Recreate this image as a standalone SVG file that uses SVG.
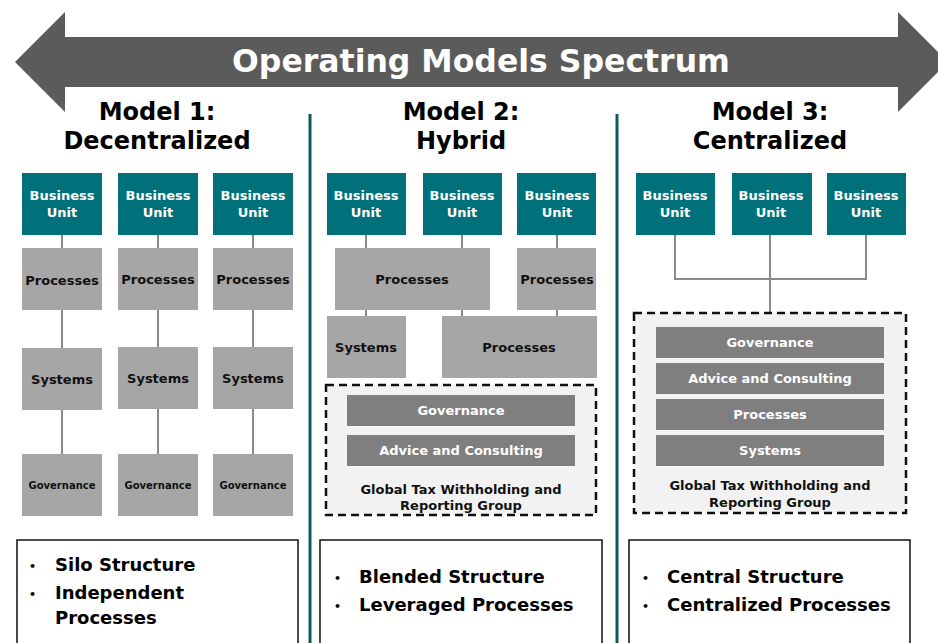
<svg xmlns="http://www.w3.org/2000/svg" width="938" height="643" viewBox="0 0 938 643">
  <style>
    text { font-family: "DejaVu Sans", Verdana, sans-serif; font-weight: bold; }
    .bu { fill: #00717b; }
    .bu-t { fill: #ffffff; font-size: 13px; text-anchor: middle; }
    .box { fill: #a6a6a6; }
    .box-t { fill: #111111; font-size: 13px; text-anchor: middle; dominant-baseline: central; }
    .gov-t { fill: #111111; font-size: 10px; text-anchor: middle; dominant-baseline: central; }
    .bar { fill: #7f7f7f; }
    .bar-t { fill: #ffffff; font-size: 13px; text-anchor: middle; dominant-baseline: central; }
    .group { fill: #f2f2f2; stroke: #111111; stroke-width: 2.5; stroke-dasharray: 8 5; }
    .group-t { fill: #111111; font-size: 13px; text-anchor: middle; }
    .head { fill: #000000; font-size: 24px; text-anchor: middle; }
    .sep { stroke: #0c5a60; stroke-width: 3; }
    .link { stroke: #8a8a8a; stroke-width: 2; fill: none; }
    .note { fill: #ffffff; stroke: #111111; stroke-width: 1.5; }
    .note-t { fill: #000000; font-size: 18px; }
    .bullet { fill: #000000; font-size: 11px; text-anchor: middle; dominant-baseline: central; }
  </style>

  <!-- spectrum arrow -->
  <g id="spectrum">
    <polygon points="15,62 65,12 65,37 898,37 898,12 948,62 898,112 898,87 65,87 65,112" fill="#5b5b5b"/>
    <text x="481" y="72" fill="#ffffff" font-size="31.5" text-anchor="middle">Operating Models Spectrum</text>
  </g>

  <!-- column separators -->
  <g id="separators">
    <line class="sep" x1="310" y1="114" x2="310" y2="643"/>
    <line class="sep" x1="617" y1="114" x2="617" y2="643"/>
  </g>

  <!-- headings -->
  <g id="heading-1">
    <text class="head" x="157" y="120">Model 1:</text>
    <text class="head" x="157" y="149">Decentralized</text>
  </g>
  <g id="heading-2">
    <text class="head" x="461" y="120">Model 2:</text>
    <text class="head" x="461" y="149">Hybrid</text>
  </g>
  <g id="heading-3">
    <text class="head" x="770" y="120">Model 3:</text>
    <text class="head" x="770" y="149">Centralized</text>
  </g>

  <!-- connectors -->
  <g id="connectors">
    <!-- model 1 -->
    <line class="link" x1="62" y1="235" x2="62" y2="454"/>
    <line class="link" x1="158" y1="235" x2="158" y2="454"/>
    <line class="link" x1="253" y1="235" x2="253" y2="454"/>
    <!-- model 2 -->
    <line class="link" x1="366" y1="235" x2="366" y2="316"/>
    <line class="link" x1="462" y1="235" x2="462" y2="316"/>
    <line class="link" x1="557" y1="235" x2="557" y2="316"/>
    <!-- model 3 -->
    <polyline class="link" points="675,235 675,279 866,279 866,235"/>
    <line class="link" x1="770" y1="235" x2="770" y2="313"/>
  </g>

  <!-- model 1 nodes -->
  <g id="m1-bu1"><rect class="bu" x="22" y="173" width="80" height="62"/><text class="bu-t" x="62" y="200">Business</text><text class="bu-t" x="62" y="217">Unit</text></g>
  <g id="m1-bu2"><rect class="bu" x="118" y="173" width="80" height="62"/><text class="bu-t" x="158" y="200">Business</text><text class="bu-t" x="158" y="217">Unit</text></g>
  <g id="m1-bu3"><rect class="bu" x="213" y="173" width="80" height="62"/><text class="bu-t" x="253" y="200">Business</text><text class="bu-t" x="253" y="217">Unit</text></g>

  <g id="m1-proc1"><rect class="box" x="22" y="248" width="80" height="62"/><text class="box-t" x="62" y="280">Processes</text></g>
  <g id="m1-proc2"><rect class="box" x="118" y="248" width="80" height="62"/><text class="box-t" x="158" y="279">Processes</text></g>
  <g id="m1-proc3"><rect class="box" x="213" y="248" width="80" height="62"/><text class="box-t" x="253" y="279">Processes</text></g>

  <g id="m1-sys1"><rect class="box" x="22" y="348" width="80" height="62"/><text class="box-t" x="62" y="379">Systems</text></g>
  <g id="m1-sys2"><rect class="box" x="118" y="347" width="80" height="62"/><text class="box-t" x="158" y="378">Systems</text></g>
  <g id="m1-sys3"><rect class="box" x="213" y="347" width="80" height="62"/><text class="box-t" x="253" y="378">Systems</text></g>

  <g id="m1-gov1"><rect class="box" x="22" y="454" width="80" height="62"/><text class="gov-t" x="62" y="485">Governance</text></g>
  <g id="m1-gov2"><rect class="box" x="118" y="454" width="80" height="62"/><text class="gov-t" x="158" y="485">Governance</text></g>
  <g id="m1-gov3"><rect class="box" x="213" y="454" width="80" height="62"/><text class="gov-t" x="253" y="485">Governance</text></g>

  <!-- model 2 nodes -->
  <g id="m2-bu1"><rect class="bu" x="327" y="173" width="79" height="62"/><text class="bu-t" x="366" y="200">Business</text><text class="bu-t" x="366" y="217">Unit</text></g>
  <g id="m2-bu2"><rect class="bu" x="423" y="173" width="79" height="62"/><text class="bu-t" x="462" y="200">Business</text><text class="bu-t" x="462" y="217">Unit</text></g>
  <g id="m2-bu3"><rect class="bu" x="517" y="173" width="79" height="62"/><text class="bu-t" x="557" y="200">Business</text><text class="bu-t" x="557" y="217">Unit</text></g>

  <g id="m2-proc-shared"><rect class="box" x="335" y="248" width="155" height="62"/><text class="box-t" x="412" y="279">Processes</text></g>
  <g id="m2-proc-own"><rect class="box" x="517" y="248" width="79" height="62"/><text class="box-t" x="557" y="279">Processes</text></g>
  <g id="m2-sys"><rect class="box" x="327" y="316" width="79" height="62"/><text class="box-t" x="366" y="347">Systems</text></g>
  <g id="m2-proc-low"><rect class="box" x="442" y="316" width="155" height="62"/><text class="box-t" x="519" y="347">Processes</text></g>

  <g id="m2-group">
    <rect class="group" x="326" y="385" width="270" height="130"/>
    <rect class="bar" x="347" y="395" width="228" height="31"/><text class="bar-t" x="461" y="410">Governance</text>
    <rect class="bar" x="347" y="435" width="228" height="31"/><text class="bar-t" x="461" y="450">Advice and Consulting</text>
    <text class="group-t" x="461" y="494">Global Tax Withholding and</text>
    <text class="group-t" x="461" y="510">Reporting Group</text>
  </g>

  <!-- model 3 nodes -->
  <g id="m3-bu1"><rect class="bu" x="636" y="173" width="79" height="62"/><text class="bu-t" x="675" y="200">Business</text><text class="bu-t" x="675" y="217">Unit</text></g>
  <g id="m3-bu2"><rect class="bu" x="732" y="173" width="80" height="62"/><text class="bu-t" x="771" y="200">Business</text><text class="bu-t" x="771" y="217">Unit</text></g>
  <g id="m3-bu3"><rect class="bu" x="827" y="173" width="79" height="62"/><text class="bu-t" x="866" y="200">Business</text><text class="bu-t" x="866" y="217">Unit</text></g>

  <g id="m3-group">
    <rect class="group" x="634" y="313" width="272" height="200"/>
    <rect class="bar" x="656" y="327" width="228" height="31"/><text class="bar-t" x="770" y="342">Governance</text>
    <rect class="bar" x="656" y="363" width="228" height="31"/><text class="bar-t" x="770" y="378">Advice and Consulting</text>
    <rect class="bar" x="656" y="399" width="228" height="31"/><text class="bar-t" x="770" y="414">Processes</text>
    <rect class="bar" x="656" y="435" width="228" height="31"/><text class="bar-t" x="770" y="450">Systems</text>
    <text class="group-t" x="770" y="490">Global Tax Withholding and</text>
    <text class="group-t" x="770" y="507">Reporting Group</text>
  </g>

  <!-- summary notes -->
  <g id="note-1">
    <rect class="note" x="17" y="540" width="281" height="110"/>
    <text class="bullet" x="32.5" y="566">•</text><text class="note-t" x="55" y="571">Silo Structure</text>
    <text class="bullet" x="32.5" y="594">•</text><text class="note-t" x="55" y="599">Independent</text>
    <text class="note-t" x="55" y="624">Processes</text>
  </g>
  <g id="note-2">
    <rect class="note" x="320" y="540" width="282" height="110"/>
    <text class="bullet" x="337.5" y="578">•</text><text class="note-t" x="359" y="583">Blended Structure</text>
    <text class="bullet" x="337.5" y="606">•</text><text class="note-t" x="359" y="611">Leveraged Processes</text>
  </g>
  <g id="note-3">
    <rect class="note" x="629" y="540" width="281" height="110"/>
    <text class="bullet" x="645.5" y="578">•</text><text class="note-t" x="667" y="583">Central Structure</text>
    <text class="bullet" x="645.5" y="606">•</text><text class="note-t" x="667" y="611">Centralized Processes</text>
  </g>
</svg>
